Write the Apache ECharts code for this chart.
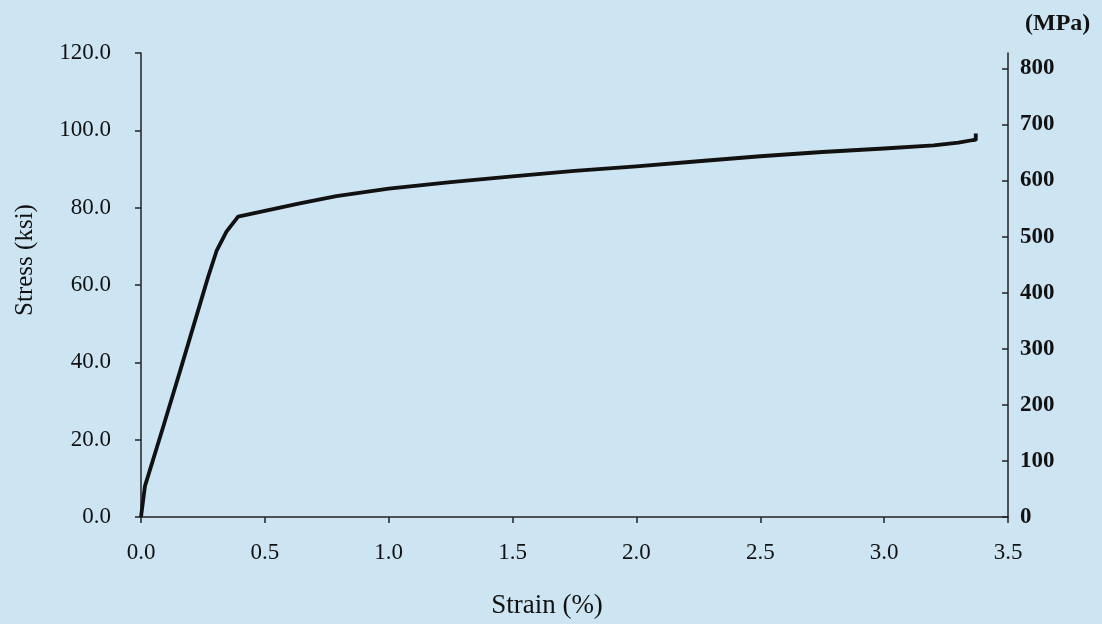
<!DOCTYPE html>
<html>
<head>
<meta charset="utf-8">
<script src="https://cdn.jsdelivr.net/npm/echarts@6/dist/echarts.min.js"></script>
<style>
html,body{margin:0;padding:0;background:#cde4f2;}
#chart{width:1102px;height:624px;}
</style>
</head>
<body>
<div id="chart"></div>
<script>
// Data
const strain = [0, 0.016, 0.09, 0.157, 0.271, 0.305, 0.345, 0.392, 0.641, 0.789, 1.0, 1.25, 1.5, 1.75, 2.0, 2.25, 2.5, 2.75, 3.0, 3.2, 3.3, 3.36, 3.37, 3.37];
const stressKsi = [0, 8.0, 23.4, 37.6, 62.1, 68.8, 73.8, 77.7, 81.1, 83.0, 84.9, 86.6, 88.1, 89.5, 90.7, 92.0, 93.3, 94.4, 95.3, 96.1, 96.8, 97.5, 97.6, 99.2];
const leftTicks = [0, 20, 40, 60, 80, 100, 120];
const rightTicks = [0, 100, 200, 300, 400, 500, 600, 700, 800];
const xTicks = [0, 0.5, 1.0, 1.5, 2.0, 2.5, 3.0, 3.5];
const KSI_TO_MPA = 6.89476;

const points = strain.map((s, i) => [s, stressKsi[i]]);
const FONT = 'Liberation Serif';
const axisColor = '#222';
const textColor = '#111';

const chart = echarts.init(document.getElementById('chart'));
chart.setOption({
  backgroundColor: '#cde4f2',
  animation: false,
  grid: { left: 141, right: 94, top: 53, bottom: 107 },
  xAxis: {
    type: 'value', min: 0, max: 3.5, interval: 0.5,
    splitLine: { show: false },
    axisLine: { lineStyle: { color: axisColor, width: 1.5 } },
    axisTick: { length: 6, lineStyle: { color: axisColor, width: 1.5 } },
    axisLabel: { margin: 24, fontFamily: FONT, fontSize: 23, color: textColor,
      formatter: v => v.toFixed(1) }
  },
  yAxis: [
    {
      type: 'value', min: 0, max: 120, interval: 20, position: 'left',
      splitLine: { show: false },
      axisLine: { show: true, lineStyle: { color: axisColor, width: 1.5 } },
      axisTick: { show: true, length: 6, lineStyle: { color: axisColor, width: 1.5 } },
      axisLabel: { margin: 30, fontFamily: FONT, fontSize: 23, color: textColor,
        formatter: v => v.toFixed(1) }
    },
    {
      type: 'value', min: 0, max: 120 * KSI_TO_MPA, position: 'right',
      splitLine: { show: false },
      axisLine: { show: true, lineStyle: { color: axisColor, width: 1.5 } },
      axisTick: { show: true, inside: true, length: 6, customValues: rightTicks,
        lineStyle: { color: axisColor, width: 1.5 } },
      axisLabel: { margin: 12, fontFamily: FONT, fontSize: 23, fontWeight: 'bold', color: textColor,
        customValues: rightTicks, formatter: v => String(Math.round(v)) }
    }
  ],
  graphic: [
    { type: 'text', left: 1025, top: 12,
      style: { text: '(MPa)', font: 'bold 24px "Liberation Serif"', fill: textColor } },
    { type: 'text', x: 25, y: 260, rotation: Math.PI / 2,
      style: { text: 'Stress (ksi)', font: '25px "Liberation Serif"', fill: textColor,
        align: 'center', verticalAlign: 'middle' } },
    { type: 'text', x: 547, y: 606,
      style: { text: 'Strain (%)', font: '27px "Liberation Serif"', fill: textColor,
        align: 'center', verticalAlign: 'middle' } }
  ],
  series: [{
    type: 'line', data: points, yAxisIndex: 0,
    showSymbol: false, symbol: 'none',
    lineStyle: { color: '#111', width: 3.8, join: 'round' }
  }]
});
</script>
</body>
</html>
